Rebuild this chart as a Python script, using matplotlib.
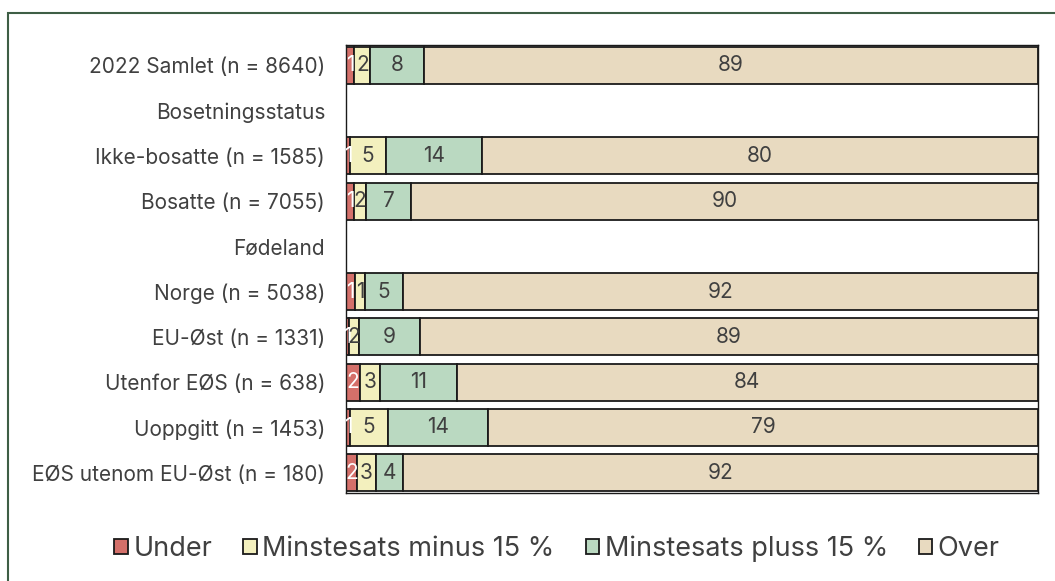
import matplotlib
matplotlib.use("Agg")
import matplotlib.pyplot as plt
from matplotlib.patches import Rectangle
import numpy as np

plt.rcParams['font.family'] = ['Inter', 'DejaVu Sans']

categories = ["2022 Samlet (n = 8640)", "Bosetningsstatus", "Ikke-bosatte (n = 1585)",
              "Bosatte (n = 7055)", "Fødeland", "Norge (n = 5038)", "EU-Øst (n = 1331)",
              "Utenfor EØS (n = 638)", "Uoppgitt (n = 1453)", "EØS utenom EU-Øst (n = 180)"]
series = ["Under", "Minstesats minus 15 %", "Minstesats pluss 15 %", "Over"]

under = [1.2, 0, 0.6, 1.2, 0, 1.3, 0.4, 2.0, 0.6, 1.6]
minus15 = [2.3, 0, 5.2, 1.7, 0, 1.4, 1.5, 2.9, 5.5, 2.7]
pluss15 = [7.8, 0, 13.9, 6.5, 0, 5.5, 8.8, 11.1, 14.4, 3.9]
over = [88.7, 0, 80.3, 90.6, 0, 91.8, 89.3, 84.0, 79.5, 91.8]

under_lbl = [1, None, 1, 1, None, 1, 1, 2, 1, 2]
minus15_lbl = [2, None, 5, 2, None, 1, 2, 3, 5, 3]
pluss15_lbl = [8, None, 14, 7, None, 5, 9, 11, 14, 4]
over_lbl = [89, None, 80, 90, None, 92, 89, 84, 79, 92]

colors = ["#D4706A", "#F3F0BE", "#BAD9C1", "#E8DAC0"]
text_colors = ["white", "#404040", "#404040", "#404040"]

fig = plt.figure(figsize=(10.55, 5.81), dpi=100)
ax = fig.add_axes([346/1055, 1-493/581, (1038-346)/1055, (493-45)/581])

y = np.arange(len(categories))
left = np.zeros(len(categories))
for vals, lbls, col, tc, name in zip([under, minus15, pluss15, over],
                                     [under_lbl, minus15_lbl, pluss15_lbl, over_lbl],
                                     colors, text_colors, series):
    vals = np.array(vals, dtype=float)
    ax.barh(y, vals, left=left, height=0.82, color=col, edgecolor="#1a1a1a",
            linewidth=1.3, label=name)
    for i, (v, l) in enumerate(zip(vals, lbls)):
        if l is None or v == 0:
            continue
        ax.text(left[i] + v/2, y[i], str(l), ha="center", va="center",
                fontsize=15, color=tc)
    left += vals

ax.set_xlim(0, 100)
ax.set_ylim(9.45, -0.45)
ax.set_yticks(y)
ax.set_yticklabels(categories, fontsize=15, color="#404040")
ax.set_xticks([])
ax.tick_params(axis="y", length=0, pad=15)
for s in ax.spines.values():
    s.set_color("#1a1a1a")
    s.set_linewidth(1.0)

fig.legend(loc="center", bbox_to_anchor=(0.528, 1-549/581), ncol=4, frameon=False,
           fontsize=19.5, handlelength=0.5, handleheight=0.5, handletextpad=0.2,
           columnspacing=1.15, labelcolor="#404040")

fig.patches.append(Rectangle((8/1055, -0.05), 1.2, (581-13)/581 + 0.05,
                             transform=fig.transFigure, fill=False,
                             edgecolor="#3E5E45", linewidth=1.5))

fig.savefig("out.png", dpi=100)
